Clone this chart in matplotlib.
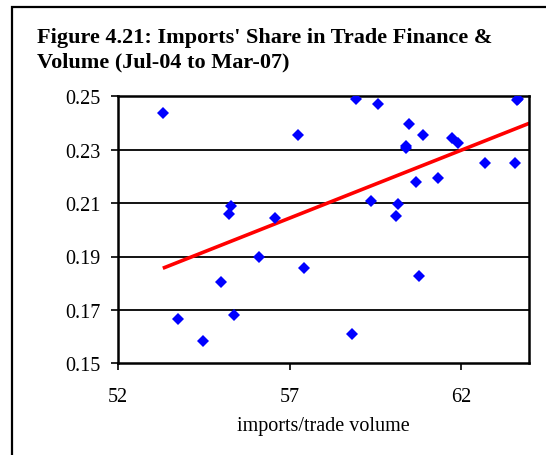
import matplotlib

matplotlib.use("Agg")
import matplotlib.pyplot as plt
from matplotlib import patches

# imports/trade volume (x) vs imports' share in trade finance (y)
volume = [53.31, 57.24, 55.28, 55.22, 56.58, 56.11, 57.42, 55.01, 53.75, 55.39,
          54.47, 58.93, 59.59, 60.50, 60.90, 60.39, 60.41, 61.75, 61.93, 62.70,
          63.57, 63.65, 63.67, 60.68, 61.34, 59.37, 60.18, 60.12, 60.78, 58.81]
share = [0.2437, 0.2355, 0.2088, 0.2059, 0.2045, 0.1898, 0.1856, 0.1806, 0.1666, 0.1681,
         0.1582, 0.2489, 0.2472, 0.2396, 0.2355, 0.2314, 0.2306, 0.2343, 0.2325, 0.2249,
         0.2249, 0.2486, 0.2491, 0.2179, 0.2193, 0.2109, 0.2096, 0.2052, 0.1828, 0.1610]

# linear trend line end points
trend_x = [53.3, 64.0]
trend_y = [0.1856, 0.2399]

x_ticks = [52, 57, 62]
y_ticks = [0.15, 0.17, 0.19, 0.21, 0.23, 0.25]

W, H = 546, 456
plt.rcParams["font.family"] = ["Liberation Serif", "DejaVu Serif"]

fig = plt.figure(figsize=(W / 100, H / 100), dpi=100, facecolor="white")

# outer frame, only left and top edges are inside the picture
fig.patches.append(
    patches.Rectangle(
        (12 / W, -0.1), 1.2, 1.1 - 8 / H,
        transform=fig.transFigure, fill=False, edgecolor="black", linewidth=1.6,
    )
)

fig.text(
    37 / W, 1 - 28 / H,
    "Figure 4.21: Imports' Share in Trade Finance &\nVolume (Jul-04 to Mar-07)",
    ha="left", va="top", fontsize=16, fontweight="bold", linespacing=1.28,
)

left, right, top, bottom = 118.3, 529.3, 97.3, 364.3
ax = fig.add_axes([left / W, 1 - bottom / H, (right - left) / W, (bottom - top) / H])

for y in y_ticks[1:-1]:
    ax.axhline(y, color="black", linewidth=1.3, zorder=1)

ax.plot(trend_x, trend_y, color="#ff0000", linewidth=2.6, zorder=2, solid_capstyle="butt")
ax.plot(volume, share, linestyle="none", marker="D", markersize=6.3,
        color="#0000ff", markeredgewidth=0, zorder=3)

ax.set_xlim(52, 64)
ax.set_ylim(0.15, 0.25)
ax.set_xticks(x_ticks)
ax.set_xticklabels([str(v) for v in x_ticks])
ax.set_yticks(y_ticks)
ax.set_yticklabels([f"{v:.2f}" for v in y_ticks])
ax.tick_params(axis="both", direction="out", length=5, width=1.2, labelsize=14.5, color="black")
ax.tick_params(axis="x", pad=12)
ax.tick_params(axis="y", pad=8)
for spine in ax.spines.values():
    spine.set_linewidth(1.8)
    spine.set_color("black")
ax.set_xlabel("imports/trade volume", fontsize=14.5, labelpad=7)

fig.savefig("out.png", dpi=100, facecolor="white")
